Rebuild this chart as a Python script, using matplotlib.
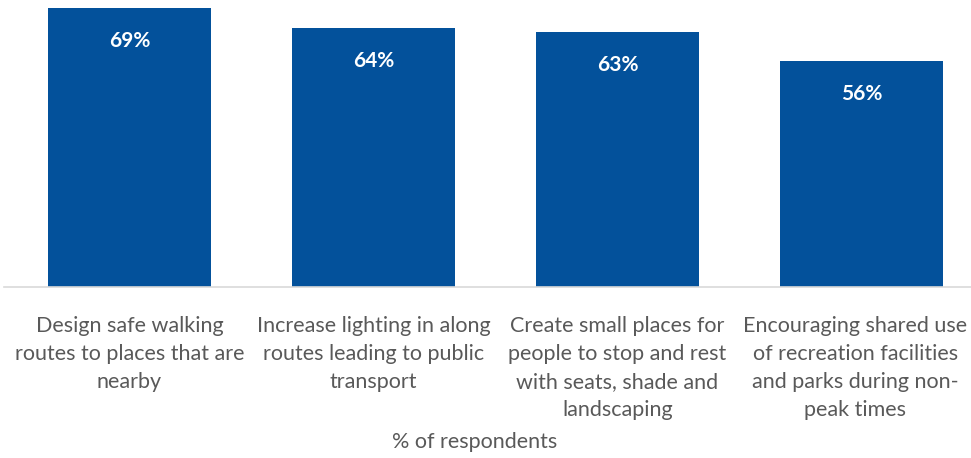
import matplotlib
matplotlib.use("Agg")
import matplotlib.pyplot as plt

categories = [
    "Design safe walking\nroutes to places that are\nnearby",
    "Increase lighting in along\nroutes leading to public\ntransport",
    "Create small places for\npeople to stop and rest\nwith seats, shade and\nlandscaping",
    "Encouraging shared use\nof recreation facilities\nand parks during non-\npeak times",
]
values = [69, 64, 63, 56]
axis_title = "% of respondents"

BAR_COLOR = "#03519B"
TEXT_COLOR = "#595959"
FONT = ["Lato", "DejaVu Sans"]

W, H = 971, 458
fig = plt.figure(figsize=(W / 100, H / 100), dpi=100)
base_px = 286.5
ax = fig.add_axes([4 / W, (H - base_px) / H, (W - 4) / W, base_px / H])

x = list(range(len(values)))
ax.bar(x, values, width=0.668, color=BAR_COLOR, zorder=2)
ax.set_xlim(-0.514, 3.449)
ax.set_ylim(0, 71)

for xi, v in zip(x, values):
    ax.annotate(f"{v}%", (xi, v), xytext=(0, -33), textcoords="offset pixels",
                ha="center", va="center", color="white", fontsize=15,
                fontweight="bold", family=FONT)

for s in ["top", "right", "left"]:
    ax.spines[s].set_visible(False)
ax.spines["bottom"].set_color("#D9D9D9")
ax.spines["bottom"].set_linewidth(1.2)
ax.set_yticks([])
ax.set_xticks([])

# category labels below the baseline; the last one is nudged left to stay inside the figure
label_top_px = 316
for i, (xi, lab) in enumerate(zip(x, categories)):
    dx = -6 if i == len(categories) - 1 else 0
    ax.annotate(lab, (xi, 0), xycoords="data",
                xytext=(dx, -(label_top_px - base_px)), textcoords="offset pixels",
                ha="center", va="top", color=TEXT_COLOR, fontsize=15.5,
                family=FONT, linespacing=1.5, annotation_clip=False)

fig.text(475 / W, 1 - 442 / H, axis_title, ha="center", va="center",
         color=TEXT_COLOR, fontsize=15.5, family=FONT)

fig.savefig("out.png", dpi=100, facecolor="white")
